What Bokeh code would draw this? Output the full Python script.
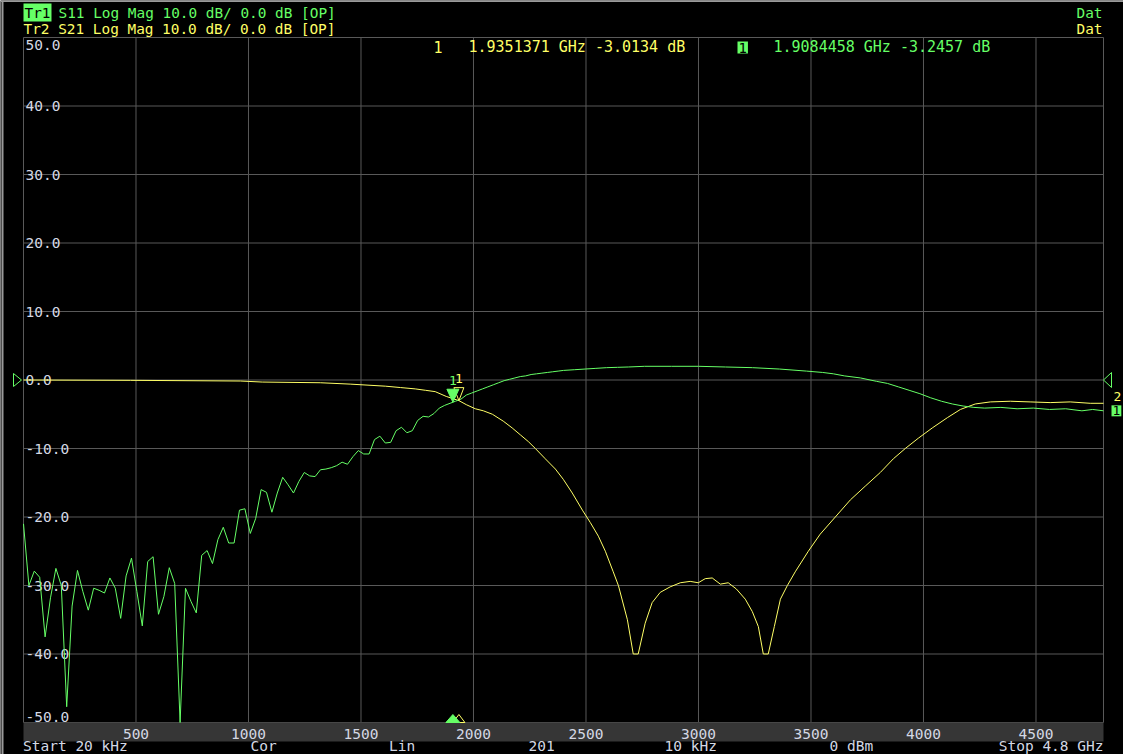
from bokeh.plotting import figure
from bokeh.models import Label, Range1d
from bokeh.core.properties import value
from bokeh.embed import file_html
from bokeh.resources import INLINE

# ---------------- data ----------------
s11_freq_mhz = [
    0.02, 24, 48, 72, 96, 120, 144, 168, 192, 216,
    240, 264, 288, 312, 336, 360, 384, 408, 432, 456,
    480, 504, 528, 552, 576, 600, 624, 648, 672, 696,
    720, 744, 768, 792, 816, 840, 864, 888, 912, 936,
    960, 984, 1008, 1032, 1056, 1080, 1104, 1128, 1152, 1176,
    1200, 1224, 1248, 1272, 1296, 1320, 1344, 1368, 1392, 1416,
    1440, 1464, 1488, 1512, 1536, 1560, 1584, 1608, 1632, 1656,
    1680, 1704, 1728, 1752, 1776, 1800, 1824, 1848, 1872, 1896,
    1920, 1944, 1968, 1992, 2016,
    2040, 2064, 2088, 2112, 2136, 2160, 2184, 2208, 2232, 2256,
    2280, 2304, 2328, 2352, 2376, 2400, 2448, 2496, 2544, 2592,
    2640, 2688, 2760, 2880, 3000, 3120, 3240, 3360, 3480, 3552,
    3600, 3648, 3720, 3792, 3840, 3888, 3936, 3984, 4032, 4080,
    4128, 4176, 4224, 4272, 4344, 4416, 4488, 4560, 4632, 4704,
    4752, 4800,
]
s11_db = [
    -21.0, -30.0, -27.9, -28.8, -37.5, -31.8, -27.5, -30.0, -47.7, -33.0,
    -27.8, -30.9, -33.6, -30.4, -30.7, -31.1, -28.9, -30.4, -34.8, -28.6,
    -26.0, -30.9, -35.9, -26.5, -25.8, -34.2, -31.6, -27.4, -29.7, -50.0,
    -30.4, -32.3, -34.0, -25.6, -24.9, -26.8, -23.3, -21.5, -23.8, -23.8,
    -19.0, -18.8, -22.4, -20.2, -16.0, -16.4, -19.3, -16.5, -14.2, -15.3,
    -16.5, -14.8, -13.5, -14.0, -14.1, -13.1, -13.0, -12.8, -12.5, -12.0,
    -12.3, -11.2, -10.3, -10.8, -10.8, -8.7, -8.2, -9.2, -9.1, -7.4,
    -6.9, -7.7, -7.4, -5.9, -5.3, -5.4, -4.9, -4.1, -3.7, -3.4,
    -3.1, -2.8, -2.2, -1.9, -1.6,
    -1.3, -1.0, -0.7, -0.4, -0.1, 0.1, 0.3, 0.5, 0.6, 0.8,
    0.9, 1.0, 1.1, 1.2, 1.3, 1.4, 1.5, 1.6, 1.7, 1.8,
    1.85, 1.9, 2.0, 2.0, 2.0, 1.9, 1.8, 1.6, 1.3, 1.1,
    0.9, 0.6, 0.3, -0.2, -0.5, -1.0, -1.5, -2.0, -2.6, -3.1,
    -3.5, -3.8, -4.0, -4.1, -4.0, -4.2, -4.1, -4.3, -4.2, -4.5,
    -4.3, -4.5,
]

s21_freq_mhz = [
    0.02, 475, 964, 1061, 1319, 1452, 1608, 1675, 1741, 1786,
    1830, 1879, 1935.1, 1968, 2008, 2044, 2084, 2132, 2172, 2208,
    2244, 2275, 2319, 2364, 2399, 2439, 2484, 2519, 2555, 2586,
    2621, 2644, 2684, 2710, 2732, 2763, 2794, 2830, 2874, 2919,
    2963, 2999, 3030, 3061, 3097, 3132, 3168, 3208, 3239, 3266,
    3288, 3310, 3337, 3364, 3395, 3430, 3488, 3541, 3608, 3675,
    3741, 3808, 3866, 3919, 3977, 4039, 4106, 4164, 4230, 4297,
    4386, 4474, 4563, 4652, 4741, 4800,
]
s21_db = [
    0.0, -0.05, -0.15, -0.3, -0.4, -0.6, -0.9, -1.1, -1.3, -1.5,
    -1.7, -2.4, -3.01, -3.6, -4.2, -4.5, -5.0, -6.0, -7.0, -8.0,
    -9.0, -10.0, -11.5, -13.0, -14.5, -16.5, -19.0, -20.8, -22.8, -25.0,
    -28.0, -30.0, -35.0, -40.0, -40.0, -35.5, -32.5, -31.0, -30.2, -29.6,
    -29.4, -29.6, -29.0, -28.9, -29.8, -29.6, -30.5, -32.0, -33.8, -36.0,
    -40.0, -40.0, -36.0, -32.0, -30.0, -28.0, -25.0, -22.5, -20.0, -17.5,
    -15.5, -13.5, -11.5, -10.0, -8.5, -7.0, -5.5, -4.3, -3.5, -3.2,
    -3.1, -3.2, -3.3, -3.2, -3.4, -3.4,
]

marker_s11_mhz, marker_s11_db = 1908.4458, -3.2457
marker_s21_mhz, marker_s21_db = 1935.1371, -3.0134
ref_level_db = 0.0

x_ticks = [500, 1000, 1500, 2000, 2500, 3000, 3500, 4000, 4500]
x_tick_labels = ["500", "1000", "1500", "2000", "2500", "3000", "3500", "4000", "4500"]
y_ticks = [50, 40, 30, 20, 10, 0, -10, -20, -30, -40, -50]
y_tick_labels = ["50.0", "40.0", "30.0", "20.0", "10.0", "0.0",
                 "-10.0", "-20.0", "-30.0", "-40.0", "-50.0"]

header_tr1 = ("Tr1", "S11 Log Mag 10.0 dB/ 0.0 dB [OP]")
header_tr2 = "Tr2 S21 Log Mag 10.0 dB/ 0.0 dB [OP]"
status_items = ["Start 20 kHz", "Cor", "Lin", "201", "10 kHz", "0 dBm", "Stop 4.8 GHz"]

# ---------------- style / layout ----------------
GREEN = "#66ff66"
YELLOW = "#ffff66"
GRID = "#595959"
TXT = "#d4d8e4"
BAND = "#363636"
MONO = "DejaVu Sans Mono"

W, H = 1123, 754
FL, FT, FW, FH = 23, 37, 1080, 685          # plot area inside the canvas
X0, X1 = 0.02, 4800.0
Y0, Y1 = -50.0, 50.0
PPX = FW / (X1 - X0)   # px per MHz
PPY = FH / (Y1 - Y0)   # px per dB


def dx(px):
    return X0 + (px - FL) / PPX


def dy(py):
    return Y1 - (py - FT) / PPY


p = figure(width=W, height=H, output_backend="svg", toolbar_location=None,
           x_range=Range1d(dx(0), dx(W)), y_range=Range1d(dy(H), dy(0)),
           x_axis_location=None, y_axis_location=None,
           min_border=0, min_border_left=0, min_border_right=0,
           min_border_top=0, min_border_bottom=0,
           background_fill_color="black", border_fill_color="black",
           outline_line_color=None)
p.grid.visible = False

# window border lines
p.quad(left=[dx(0)], right=[dx(W)], top=[dy(0)], bottom=[dy(1.5)],
       fill_color="#9a9a9a", line_alpha=0)
p.quad(left=[dx(1)], right=[dx(3)], top=[dy(0)], bottom=[dy(H)],
       fill_color="#9a9a9a", line_alpha=0)

# grid lines
p.segment(x0=x_ticks, x1=x_ticks, y0=[Y0] * len(x_ticks), y1=[Y1] * len(x_ticks),
          line_color=GRID, line_width=1)
inner_y = y_ticks[1:-1]
p.segment(x0=[X0] * len(inner_y), x1=[X1] * len(inner_y), y0=inner_y, y1=inner_y,
          line_color=GRID, line_width=1)
# plot frame
p.quad(left=[X0], right=[X1], top=[Y1], bottom=[Y0], fill_alpha=0,
       line_color=GRID, line_width=1)

# x axis band + tick labels
p.quad(left=[X0], right=[X1], top=[Y0], bottom=[dy(741)], fill_color=BAND, line_alpha=0)
p.text(x=x_ticks, y=[Y0] * len(x_ticks), text=x_tick_labels, y_offset=11,
       text_align="center", text_baseline="middle", text_color=TXT,
       text_font=value(MONO), text_font_size="14.5px")

# y tick labels inside the plot
mid_labels = y_tick_labels[1:-1]
p.text(x=[X0] * len(inner_y), y=inner_y, text=mid_labels, x_offset=2,
       text_baseline="middle", text_align="left", text_color=TXT,
       text_font=value(MONO), text_font_size="14.5px")
p.text(x=[X0], y=[y_ticks[0]], text=[y_tick_labels[0]], x_offset=2, y_offset=2,
       text_baseline="top", text_align="left", text_color=TXT,
       text_font=value(MONO), text_font_size="14.5px")
p.text(x=[X0], y=[y_ticks[-1]], text=[y_tick_labels[-1]], x_offset=2, y_offset=-1,
       text_baseline="bottom", text_align="left", text_color=TXT,
       text_font=value(MONO), text_font_size="14.5px")

# traces
p.line(s21_freq_mhz, s21_db, line_color=YELLOW, line_width=1)
p.line(s11_freq_mhz, s11_db, line_color=GREEN, line_width=1)


def tri_down(f, v, hw, h):
    return [f - hw / PPX, f + hw / PPX, f], [v + h / PPY, v + h / PPY, v]


def tri_up_bottom(f, hw, h):
    return [f - hw / PPX, f + hw / PPX, f], [Y0, Y0, Y0 + h / PPY]


# markers on the traces
xs, ys = tri_down(marker_s21_mhz, marker_s21_db, 5, 13)
p.patch(xs, ys, fill_alpha=0, line_color=YELLOW, line_width=1)
xs, ys = tri_down(marker_s11_mhz, marker_s11_db, 6, 13)
p.patch(xs, ys, fill_color=GREEN, line_color=GREEN, line_width=1)
p.text(x=[marker_s11_mhz], y=[marker_s11_db], text=["1"], y_offset=-22,
       text_align="center", text_baseline="middle", text_color=GREEN,
       text_font=value(MONO), text_font_size="13px")
p.text(x=[marker_s21_mhz], y=[marker_s21_db], text=["1"], y_offset=-22,
       text_align="center", text_baseline="middle", text_color=YELLOW,
       text_font=value(MONO), text_font_size="13px")

# marker indicators at the bottom edge
xs, ys = tri_up_bottom(marker_s21_mhz, 6, 8)
p.patch(xs, ys, fill_alpha=0, line_color=YELLOW, line_width=1)
xs, ys = tri_up_bottom(marker_s11_mhz, 7, 8)
p.patch(xs, ys, fill_color=GREEN, line_color=GREEN, line_width=1)

# reference level triangles at both sides
p.patch([dx(13), dx(13), dx(21)],
        [ref_level_db + 6.5 / PPY, ref_level_db - 6.5 / PPY, ref_level_db],
        fill_alpha=0, line_color=GREEN, line_width=1)
p.patch([X1, dx(1111), dx(1111)],
        [ref_level_db, ref_level_db + 7.5 / PPY, ref_level_db - 7.5 / PPY],
        fill_alpha=0, line_color=GREEN, line_width=1)


def lab(px, py, text, color, align="left", size="14.5px", bg=None, ydata=None, yoff=0):
    kw = dict(x=dx(px), y=(dy(py) if ydata is None else ydata), text=text, text_color=color,
              text_font=MONO, text_font_size=size, text_align=align,
              text_baseline="middle", y_offset=yoff)
    if bg is not None:
        kw.update(background_fill_color=bg, background_fill_alpha=1.0, padding=1)
    p.add_layout(Label(**kw))


# header
lab(23, 12, header_tr1[0], "black", bg=GREEN, size="14.4px")
lab(58, 12, header_tr1[1], GREEN, size="14.4px")
lab(23, 28, header_tr2, YELLOW, size="14.4px")
lab(1102, 12, "Dat", GREEN, align="right", size="14.4px")
lab(1102, 28, "Dat", YELLOW, align="right", size="14.4px")

# marker readouts
lab(433, 46, "1", YELLOW, size="15px")
lab(468, 46, f"{marker_s21_mhz / 1000:.7f} GHz {marker_s21_db:.4f} dB", YELLOW, size="15px")
lab(737, 47, "1", "black", bg=GREEN, size="14px")
lab(773, 46, f"{marker_s11_mhz / 1000:.7f} GHz {marker_s11_db:.4f} dB", GREEN, size="15px")

# trace end labels (right margin)
lab(1113, 0, "2", YELLOW, size="13px", ydata=s21_db[-1], yoff=7)
lab(1111, 0, "1", "black", bg=GREEN, size="13px", ydata=s11_db[-1])

# status line
status_px = [22.5, 250, 388.6, 528, 664, 829]
for px, t in zip(status_px, status_items[:-1]):
    lab(px, 745, t, TXT, size="14.5px")
lab(1103, 745, status_items[-1], TXT, align="right", size="14.5px")

open("out.html", "w").write(file_html(p, INLINE))
